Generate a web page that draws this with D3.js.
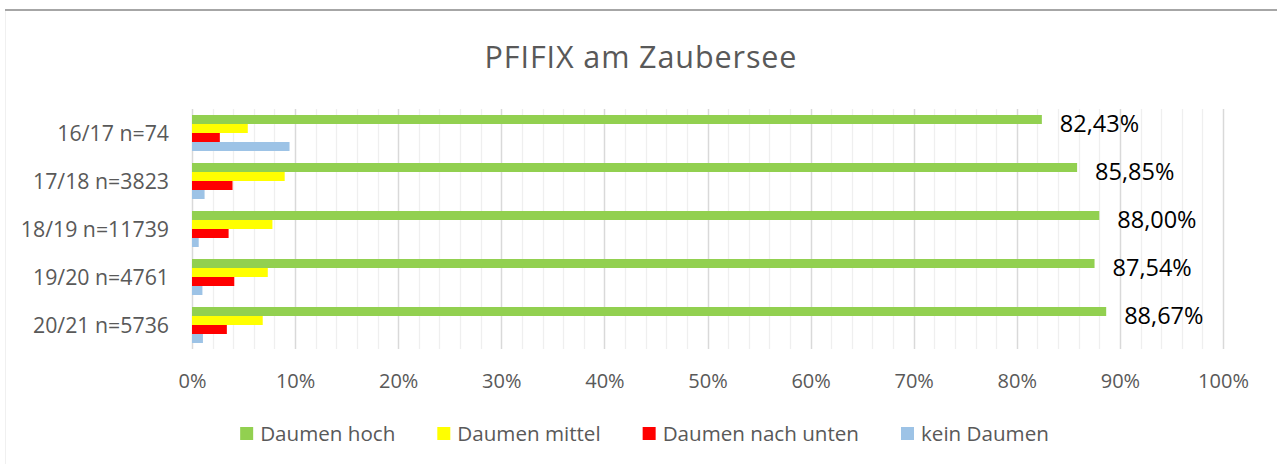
<!DOCTYPE html>
<html>
<head>
<meta charset="utf-8">
<script src="https://d3js.org/d3.v7.min.js"></script>
<style>
  body { margin: 0; background: #fff; }
  text { font-family: "Open Sans", sans-serif; }
</style>
</head>
<body>
<script>
// values (percent)
var categories = ["16/17 n=74", "17/18 n=3823", "18/19 n=11739", "19/20 n=4761", "20/21 n=5736"];
var seriesNames = ["Daumen hoch", "Daumen mittel", "Daumen nach unten", "kein Daumen"];
var hoch   = [82.43, 85.85, 88.00, 87.54, 88.67];
var mittel = [5.41, 8.99, 7.80, 7.35, 6.86];
var unten  = [2.70, 3.93, 3.55, 4.10, 3.38];
var kein   = [9.46, 1.22, 0.65, 1.01, 1.06];
var tickValues = [0, 10, 20, 30, 40, 50, 60, 70, 80, 90, 100];
var minorTicks = d3.range(0, 101, 2);

var seriesColors = ["#92d050", "#ffff00", "#ff0000", "#9dc3e6"];
var series = [hoch, mittel, unten, kein];

var width = 1277;
var height = 464;
var textColor = "#595959";
var plotLeft = 192, plotRight = 1223;
var plotTop = 109, plotBottom = 349;

var svg = d3.select("body").append("svg")
    .attr("width", width)
    .attr("height", height);

//*********** frame of the chart area *******************
svg.append("line")
    .attr("x1", 5).attr("x2", width)
    .attr("y1", 10).attr("y2", 10)
    .attr("stroke", "#a6a6a6")
    .attr("stroke-width", 2);
svg.append("line")
    .attr("x1", 5.5).attr("x2", 5.5)
    .attr("y1", 11).attr("y2", height)
    .attr("stroke", "#f0f0f0")
    .attr("stroke-width", 1);

svg.append("text")
    .attr("x", 641)
    .attr("y", 68)
    .attr("text-anchor", "middle")
    .style("font-size", "30.5px")
    .style("letter-spacing", "0.9px")
    .style("fill", textColor)
    .text("PFIFIX am Zaubersee");

//*********** scales *******************
var x = d3.scaleLinear()
    .domain([0, 100])
    .range([plotLeft, plotRight]);

var y = d3.scaleBand()
    .domain(categories)
    .range([plotTop, plotBottom])
    .paddingInner(0.25)
    .paddingOuter(0.125);

var ySeries = d3.scaleBand()
    .domain(seriesNames)
    .range([0, y.bandwidth()]);

//*********** grid *******************
svg.append("g").selectAll("line.minor")
    .data(minorTicks.filter(function(d){ return d % 10 != 0; }))
    .enter().append("line")
    .attr("class", "minor")
    .attr("x1", function(d){ return Math.round(x(d)) + 0.5; })
    .attr("x2", function(d){ return Math.round(x(d)) + 0.5; })
    .attr("y1", plotTop)
    .attr("y2", plotBottom)
    .attr("stroke", "#efefef")
    .attr("stroke-width", 1.3);

svg.append("g").selectAll("line.major")
    .data(tickValues)
    .enter().append("line")
    .attr("class", "major")
    .attr("x1", function(d){ return Math.round(x(d)) + 0.5; })
    .attr("x2", function(d){ return Math.round(x(d)) + 0.5; })
    .attr("y1", plotTop)
    .attr("y2", plotBottom)
    .attr("stroke", "#d9d9d9")
    .attr("stroke-width", 1.5);

// x axis labels
var xAxis = d3.axisBottom(x)
    .tickValues(tickValues)
    .tickSize(0)
    .tickPadding(0)
    .tickFormat(function(d){ return d + "%"; });

var gx = svg.append("g")
    .attr("transform", "translate(0," + plotBottom + ")")
    .call(xAxis);
gx.select(".domain").remove();
gx.selectAll("text")
    .attr("y", 39)
    .attr("dy", null)
    .style("font-size", "20px")
    .style("font-family", "'Open Sans', sans-serif")
    .attr("fill", textColor);

// y axis labels
var yAxis = d3.axisLeft(y)
    .tickSize(0)
    .tickPadding(23);

var gy = svg.append("g")
    .attr("transform", "translate(" + plotLeft + ",0)")
    .call(yAxis);
gy.select(".domain").remove();
gy.selectAll("text")
    .attr("dy", "0.36em")
    .style("font-size", "21.3px")
    .style("font-family", "'Open Sans', sans-serif")
    .attr("fill", textColor);

//*********** bars *******************
var fmt = d3.format(".2f");
series.forEach(function(values, si){
    var g = svg.append("g");
    g.selectAll("rect")
        .data(values)
        .enter().append("rect")
        .attr("x", x(0))
        .attr("y", function(d, i){ return y(categories[i]) + ySeries(seriesNames[si]); })
        .attr("width", function(d){ return x(d) - x(0); })
        .attr("height", ySeries.bandwidth())
        .attr("fill", seriesColors[si]);

    // only the first series carries value labels
    if (si == 0){
        g.selectAll("text")
            .data(values)
            .enter().append("text")
            .attr("x", function(d){ return x(d) + 18; })
            .attr("y", function(d, i){ return y(categories[i]) + ySeries(seriesNames[si]) + ySeries.bandwidth()/2 + 12; })
            .style("font-size", "23.5px")
            .style("fill", "#000")
            .text(function(d){ return fmt(d).replace(".", ",") + "%"; });
    }
});

//*********** legend *******************
var legend = svg.append("g");
var lx = 0;
seriesNames.forEach(function(name, i){
    var item = legend.append("g").attr("transform", "translate(" + lx + ",0)");
    item.append("rect")
        .attr("x", 0)
        .attr("y", 427)
        .attr("width", 13)
        .attr("height", 13)
        .attr("fill", seriesColors[i]);
    var t = item.append("text")
        .attr("x", 20)
        .attr("y", 441)
        .style("font-size", "20.6px")
        .style("fill", textColor)
        .text(name);
    lx += 20 + t.node().getComputedTextLength() + 42;
});
var legendWidth = lx - 42;
legend.attr("transform", "translate(" + (644.5 - legendWidth/2) + ",0)");
</script>
</body>
</html>
